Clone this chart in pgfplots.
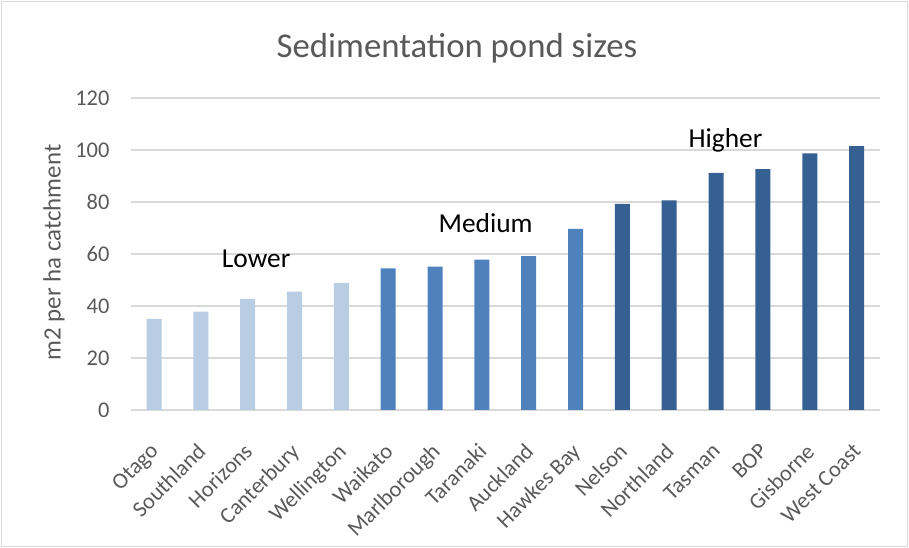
\documentclass[border=0pt]{standalone}
\usepackage{pgfplots}
\pgfplotsset{compat=1.18}
\usepackage{fontspec}
\setmainfont{Carlito}
\definecolor{lightb}{HTML}{B8CCE4}
\definecolor{medb}{HTML}{4F81BD}
\definecolor{darkb}{HTML}{376092}
\definecolor{tickgray}{HTML}{595959}
\definecolor{gridgray}{HTML}{D9D9D9}
\begin{document}
\begin{tikzpicture}[x=1pt,y=1pt]
\useasboundingbox (0,0) rectangle (909,548);
\draw[gridgray, line width=1.2pt] (1.5,1.5) rectangle (907.5,546.5);
\node[font=\fontsize{34.8}{40}\selectfont, text=tickgray] at (457,499.5) {Sedimentation pond sizes};
\node[rotate=90, font=\fontsize{24.9}{28}\selectfont, text=tickgray] at (54,295.5) {m2 per ha catchment};
\begin{axis}[
  at={(130.6pt,138pt)}, anchor=south west,
  scale only axis, width=749.4pt, height=312pt,
  xmin=-0.5, xmax=15.5, ymin=0, ymax=120,
  ytick={0,20,...,120},
  xtick={0,...,15},
  xticklabels={Otago,Southland,Horizons,Canterbury,Wellington,Waikato,Marlborough,Taranaki,Auckland,Hawkes Bay,Nelson,Northland,Tasman,BOP,Gisborne,West Coast},
  axis line style={draw=none},
  major tick length=0pt,
  tick style={draw=none},
  ymajorgrids, grid style={gridgray, line width=1.2pt},
  /pgf/number format/assume math mode=true,
  yticklabel style={font=\fontsize{22.4}{26}\selectfont, text=tickgray, anchor=east, inner sep=0pt, xshift=-21pt},
  xticklabel style={font=\fontsize{22.4}{26}\selectfont, text=tickgray, rotate=45, anchor=north east, inner sep=0pt, xshift=-26pt, yshift=-19pt},
  clip=false,
]
\addplot[ybar, bar width=15pt, bar shift=0pt, fill=lightb, draw=none] coordinates {(0,35.0) (1,37.8) (2,42.7) (3,45.5) (4,48.8)};
\addplot[ybar, bar width=15pt, bar shift=0pt, fill=medb, draw=none] coordinates {(5,54.5) (6,55.1) (7,57.8) (8,59.2) (9,69.7)};
\addplot[ybar, bar width=15pt, bar shift=0pt, fill=darkb, draw=none] coordinates {(10,79.3) (11,80.6) (12,91.2) (13,92.6) (14,98.7) (15,101.5)};
\node[font=\fontsize{27.4}{31}\selectfont] at (axis cs:2.18,58) {Lower};
\node[font=\fontsize{27.4}{31}\selectfont] at (axis cs:7.08,71.9) {Medium};
\node[font=\fontsize{27.4}{31}\selectfont] at (axis cs:12.2,103.8) {Higher};
\end{axis}
\end{tikzpicture}
\end{document}
